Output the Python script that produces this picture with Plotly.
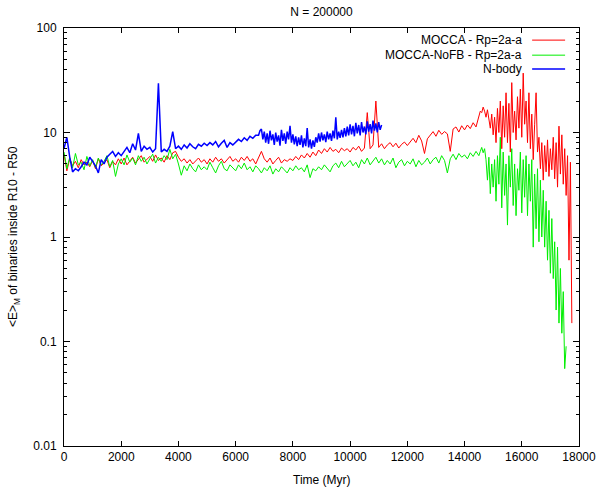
import plotly.graph_objects as go

# ---------------- data ----------------
# MOCCA - Rp=2a-a (red): 0..14400 Myr every 100 Myr, then 14500..17750 every 50 Myr
red_time_coarse = list(range(0, 14500, 100))
red_vals_coarse = [
    6.2, 4.3, 5.6, 4.8, 5.3, 4.6, 5.5, 4.9, 5.2, 4.7,
    5.4, 4.5, 5.6, 4.8, 5.1, 5.5, 4.6, 5.3, 4.9, 5.6,
    5.0, 5.7, 4.9, 5.4, 5.8, 5.1, 5.5, 6.0, 5.2, 5.6,
    5.9, 5.3, 6.1, 5.4, 5.7, 5.2, 6.0, 5.5, 6.4, 6.6,
    5.8, 5.3, 5.6, 5.1, 5.5, 5.0, 5.4, 5.7, 5.2, 5.5,
    5.0, 5.6, 5.2, 5.8, 5.3, 5.6, 5.1, 5.5, 5.9, 5.3,
    5.6, 5.2, 5.8, 5.4, 5.9, 5.3, 5.6, 5.0, 5.7, 6.6,
    5.6, 5.2, 5.7, 5.0, 5.4, 5.8, 5.1, 5.5, 5.3, 5.6,
    5.4, 5.9, 5.5, 6.1, 5.7, 6.3, 5.8, 6.5, 6.0, 6.8,
    6.3, 7.0, 6.5, 7.2, 6.6, 6.9, 6.4, 7.1, 6.7, 7.0,
    6.5, 7.2, 6.8, 7.4, 6.6, 7.1, 15.5, 7.0, 7.6, 20.0,
    7.2, 7.8, 7.0, 7.6, 8.0, 7.3, 7.9, 7.1, 7.7, 8.1,
    7.5, 8.2, 8.8, 8.0, 9.4, 8.3, 6.3, 8.7, 9.5, 10.2,
    9.2, 10.5, 9.6, 10.2, 9.7, 6.6, 10.8, 11.3, 10.1, 11.6,
    10.6, 11.8, 10.9, 12.4, 11.3,
]
red_time_fine = list(range(14500, 17800, 50))
red_vals_fine = [
    14.5, 16.0, 15.5, 17.5, 16.0, 14.0, 16.5, 13.0, 11.0, 15.0,
    9.5, 14.0, 8.0, 17.0, 10.0, 20.0, 7.0, 18.0, 9.0, 24.0,
    8.0, 19.0, 6.5, 30.0, 10.0, 16.0, 8.5, 22.0, 11.0, 26.0,
    9.0, 37.0, 12.0, 20.0, 8.0, 24.0, 7.0, 15.0, 5.5, 12.0,
    24.0, 6.5, 9.0, 4.5, 8.0, 3.5, 7.5, 4.2, 8.5, 3.8,
    7.0, 4.4, 9.0, 3.6, 8.0, 3.0, 11.5, 4.0, 9.5, 3.2,
    7.0, 2.5, 6.0, 0.6, 5.2, 0.15,
]

# MOCCA-NoFB - Rp=2a-a (green): 0..14400 every 100 Myr, then 14500..17550 every 50 Myr
green_time_coarse = list(range(0, 14500, 100))
green_vals_coarse = [
    6.5, 4.5, 5.8, 4.6, 6.3, 4.9, 5.2, 4.4, 5.9, 4.8,
    5.5, 4.6, 5.7, 4.9, 5.3, 6.0, 4.7, 5.4, 3.8, 5.0,
    5.6, 4.9, 6.1, 5.2, 5.7, 4.9, 6.0, 5.3, 5.8, 5.0,
    5.6, 6.2, 5.1, 5.8, 5.3, 6.0, 5.5, 6.9, 5.6, 6.2,
    5.0, 3.9, 4.8, 4.3, 5.0, 4.5, 4.2, 4.9, 4.4, 4.7,
    4.4, 5.2, 4.6, 4.1, 4.8, 5.3, 4.5, 4.3, 4.9, 4.6,
    4.3, 4.9, 4.5, 5.1, 4.4, 4.7, 4.2, 4.8, 4.5, 4.1,
    4.6, 4.3, 4.8, 4.0, 4.5, 4.2, 4.7, 4.4, 4.1, 4.6,
    4.3, 4.8, 4.4, 4.6, 4.2, 4.9, 3.7, 4.5, 4.3, 4.7,
    4.4, 4.9, 4.5, 4.2, 4.8, 5.1, 4.6, 5.3, 4.7, 5.0,
    5.4, 4.8, 5.2, 4.6, 5.5, 5.0, 5.7, 4.9, 5.3, 5.8,
    5.1, 5.6, 4.9, 5.4, 5.0, 5.7, 4.6, 5.2, 5.5, 4.8,
    5.3, 5.0, 5.6, 4.7, 5.4, 4.9, 5.2, 5.7, 5.0, 5.5,
    5.8, 5.1, 6.0, 5.4, 4.1, 5.6, 6.2, 5.5, 6.3, 5.8,
    6.1, 5.6, 6.4, 5.9, 6.6,
]
green_time_fine = list(range(14500, 17600, 50))
green_vals_fine = [
    6.0, 6.6, 7.2, 6.4, 7.0, 5.5, 3.5, 5.8, 2.6, 5.0,
    3.0, 5.5, 2.2, 6.0, 3.2, 9.0, 1.9, 6.5, 2.5, 5.0,
    1.3, 6.0, 3.0, 7.0, 2.0, 5.0, 1.6, 4.5, 2.8, 6.5,
    1.7, 5.5, 2.4, 6.0, 1.6, 5.0, 2.2, 5.5, 0.8, 4.0,
    1.2, 4.5, 0.9, 3.5, 1.0, 2.8, 0.8, 2.2, 0.6, 1.8,
    0.45, 1.5, 0.4, 0.9, 0.2, 0.8, 0.15, 0.5, 0.12, 0.3,
    0.055, 0.09,
]

# N-body (blue): 0..6700 every 100 Myr, then 6800..11100 every 50 Myr
blue_time_coarse = list(range(0, 6800, 100))
blue_vals_coarse = [
    7.0, 9.0, 5.8, 4.2, 4.5, 4.3, 4.7, 5.2, 4.9, 5.8,
    5.3, 4.8, 4.1, 5.5, 5.0, 5.8, 6.2, 6.6, 5.9, 6.4,
    6.0, 6.6, 7.2, 6.4, 7.8, 6.8, 9.8, 6.6, 7.4, 6.9,
    7.2, 6.5, 7.0, 29.5, 6.5, 6.9, 6.6, 7.4, 10.2, 7.0,
    7.4, 6.9, 7.6, 7.1, 7.8, 7.3, 7.0, 7.7, 7.4, 7.9,
    7.5, 8.0, 7.6, 8.2, 7.3, 7.9, 8.4, 7.2, 8.0, 7.6,
    8.1, 8.6, 8.2, 8.9, 8.4, 9.2, 8.8, 9.4,
]
blue_time_fine = list(range(6800, 11150, 50))
blue_vals_fine = [
    9.4, 10.4, 10.8, 8.6, 10.2, 8.0, 9.8, 7.8, 10.4, 8.4,
    9.6, 7.6, 10.0, 8.2, 9.4, 7.5, 10.6, 8.3, 9.8, 7.8,
    10.2, 8.6, 11.6, 8.0, 9.6, 7.7, 9.2, 7.4, 9.0, 7.6,
    9.4, 7.2, 8.8, 7.4, 11.0, 7.2, 8.6, 7.0, 8.4, 7.3,
    9.0, 8.0, 9.8, 8.2, 10.0, 8.4, 9.6, 8.1, 10.2, 8.6,
    9.8, 8.3, 10.4, 8.8, 14.0, 8.6, 10.2, 8.9, 10.6, 9.0,
    11.0, 9.2, 11.4, 9.4, 12.0, 9.6, 11.6, 9.2, 12.4, 9.8,
    11.8, 9.4, 12.6, 10.0, 11.4, 9.6, 12.8, 10.2, 12.0, 9.8,
    13.0, 10.4, 12.2, 10.0, 12.6, 10.6, 11.8,
]

series_names = ["MOCCA - Rp=2a-a", "MOCCA-NoFB - Rp=2a-a", "N-body"]
series_colors = ["#ff0000", "#00ee00", "#0000ff"]
series_widths = [1.0, 1.0, 1.5]

x_ticks = [0, 2000, 4000, 6000, 8000, 10000, 12000, 14000, 16000, 18000]
x_ticktext = ["0", "2000", "4000", "6000", "8000", "10000", "12000", "14000",
              "16000", "18000"]
y_ticks = [0.01, 0.1, 1, 10, 100]
y_ticktext = ["0.01", "0.1", "1", "10", "100"]
y_minor = [m * d for d in [0.01, 0.1, 1, 10] for m in range(2, 10)]

red_t = red_time_coarse + red_time_fine
red_v = red_vals_coarse + red_vals_fine
green_t = green_time_coarse + green_time_fine
green_v = green_vals_coarse + green_vals_fine
blue_t = blue_time_coarse + blue_time_fine
blue_v = blue_vals_coarse + blue_vals_fine

FONT = "Liberation Sans, Arial, Helvetica, sans-serif"

fig = go.Figure()
for t, v, name, col, w in [
    (red_t, red_v, series_names[0], series_colors[0], series_widths[0]),
    (green_t, green_v, series_names[1], series_colors[1], series_widths[1]),
    (blue_t, blue_v, series_names[2], series_colors[2], series_widths[2]),
]:
    fig.add_trace(go.Scatter(x=t, y=v, mode="lines", name=name,
                             line=dict(color=col, width=w), showlegend=False))

# gnuplot-style legend: right-aligned text with the line sample on the right
leg_y = [0.971, 0.935, 0.902]
for name, col, w, yy in zip(series_names, series_colors, series_widths, leg_y):
    fig.add_annotation(xref="paper", yref="paper", x=0.893, y=yy, text=name,
                       showarrow=False, xanchor="right", yanchor="middle",
                       font=dict(family=FONT, size=12, color="black"))
    fig.add_shape(type="line", xref="paper", yref="paper", x0=0.909, x1=0.973,
                  y0=yy, y1=yy, line=dict(color=col, width=w))

# axis titles
fig.add_annotation(xref="paper", yref="paper", x=0.5, y=-0.082,
                   text="Time (Myr)", showarrow=False, xanchor="center",
                   yanchor="middle", font=dict(family=FONT, size=12, color="black"))
fig.add_annotation(xref="paper", yref="paper", x=-0.097, y=0.5,
                   text="&lt;E&gt;<sub>M</sub> of binaries inside R10 - R50",
                   showarrow=False, textangle=-90, xanchor="center",
                   yanchor="middle", font=dict(family=FONT, size=12, color="black"))

fig.update_layout(
    width=599, height=491,
    margin=dict(l=64, r=20, t=28, b=45, autoexpand=False),
    paper_bgcolor="white", plot_bgcolor="white",
    font=dict(family=FONT, size=12, color="black"),
    title=dict(text="N = 200000", x=0.5, xref="paper", y=0.976, yref="container",
               xanchor="center", yanchor="middle",
               font=dict(family=FONT, size=12, color="black")),
    showlegend=False,
)
fig.update_xaxes(
    range=[0, 18000], tickvals=x_ticks, ticktext=x_ticktext, ticks="inside",
    ticklen=5, tickcolor="black", showline=True, linecolor="black", linewidth=1,
    mirror="ticks", showgrid=False, zeroline=False, automargin=False,
    tickfont=dict(family=FONT, size=12, color="black"),
)
fig.update_yaxes(
    type="log", range=[-2, 2], tickvals=y_ticks, ticktext=y_ticktext,
    ticks="inside", ticklen=6, tickcolor="black", showline=True,
    linecolor="black", linewidth=1, mirror="allticks", showgrid=False,
    zeroline=False, ticklabelstandoff=4, automargin=False,
    minor=dict(tickvals=y_minor, ticks="inside", ticklen=3, tickcolor="black",
               showgrid=False),
    tickfont=dict(family=FONT, size=12, color="black"),
)

# remove the browser's default 8px page margin so the figure fills the window
fig.write_html("out.html", config={"displayModeBar": False},
               post_script="document.body.style.margin='0';"
                           "document.body.style.overflow='hidden';")
